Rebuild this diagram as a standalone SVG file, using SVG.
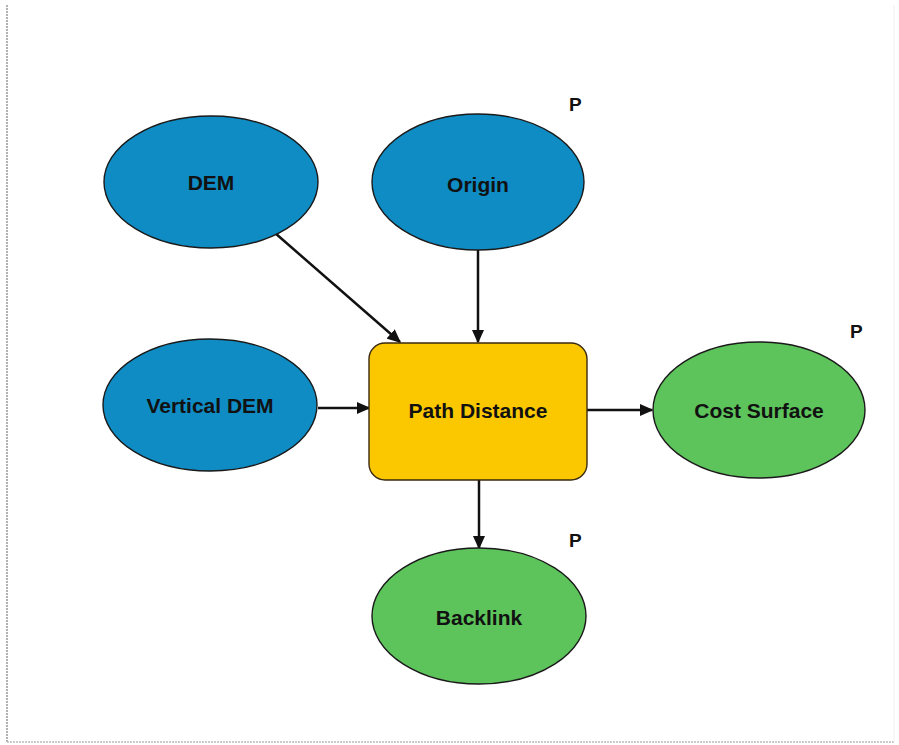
<svg xmlns="http://www.w3.org/2000/svg" width="899" height="745" viewBox="0 0 899 745">
<style>
.in{fill:#0f8cc4;stroke:#1a1a1a;stroke-width:1.4}
.out{fill:#5dc35b;stroke:#1a1a1a;stroke-width:1.4}
.tool{fill:#fbc800;stroke:#3a2a10;stroke-width:1.4}
.lbl{font-family:"Liberation Sans",Arial,sans-serif;font-weight:bold;font-size:21px;fill:#111;text-anchor:middle;dominant-baseline:central}
.p{font-family:"Liberation Sans",Arial,sans-serif;font-weight:bold;font-size:19px;fill:#111}
.edge{stroke:#111;stroke-width:2.5;fill:none;marker-end:url(#ah)}
</style>
<defs>
<marker id="ah" viewBox="0 0 10 10" refX="9" refY="5" markerWidth="5.5" markerHeight="5.5" orient="auto" markerUnits="strokeWidth">
<path d="M0,0.5 L10,5 L0,9.5 z" fill="#111"/>
</marker>
</defs>
<rect width="899" height="745" fill="#fff"/>
<line x1="7" y1="5" x2="7" y2="742" stroke="#999" stroke-width="1.5" stroke-dasharray="2,1"/>
<line x1="7" y1="742" x2="894" y2="742" stroke="#bbb" stroke-width="1.5" stroke-dasharray="2,1"/>
<line x1="894" y1="5" x2="894" y2="742" stroke="#f0f0f0" stroke-width="1"/>
<g id="connectors">
<line class="edge" x1="275" y1="233" x2="400" y2="342"/>
<line class="edge" x1="478" y1="250" x2="478" y2="342"/>
<line class="edge" x1="318" y1="408" x2="369" y2="408"/>
<line class="edge" x1="587" y1="410" x2="652" y2="410"/>
<line class="edge" x1="479" y1="480" x2="479" y2="548"/>
</g>
<g id="dem">
<ellipse class="in" cx="211" cy="182" rx="107" ry="66"/>
<text class="lbl" x="211" y="182">DEM</text>
</g>
<g id="origin">
<ellipse class="in" cx="478" cy="182" rx="106" ry="68"/>
<text class="lbl" x="478" y="184">Origin</text>
<text class="p" x="569" y="111">P</text>
</g>
<g id="vertical-dem">
<ellipse class="in" cx="210" cy="405" rx="107" ry="66"/>
<text class="lbl" x="210" y="405">Vertical DEM</text>
</g>
<g id="path-distance">
<rect class="tool" x="369" y="343" width="218" height="137" rx="16" ry="16"/>
<text class="lbl" x="478" y="410">Path Distance</text>
</g>
<g id="cost-surface">
<ellipse class="out" cx="759" cy="410" rx="106" ry="68"/>
<text class="lbl" x="759" y="410">Cost Surface</text>
<text class="p" x="850" y="338">P</text>
</g>
<g id="backlink">
<ellipse class="out" cx="479" cy="616" rx="107" ry="68"/>
<text class="lbl" x="479" y="617">Backlink</text>
<text class="p" x="569" y="547">P</text>
</g>
</svg>
